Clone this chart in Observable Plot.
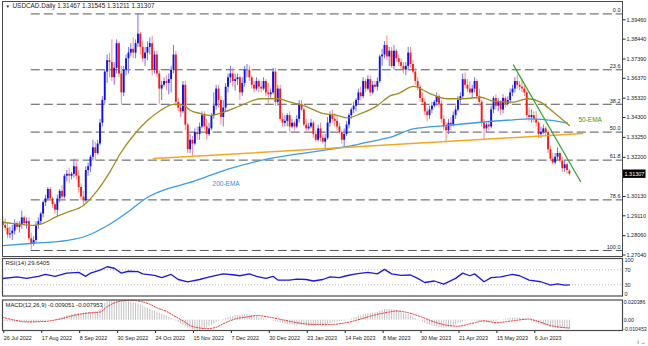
<!DOCTYPE html>
<html>
<head>
<meta charset="utf-8">
<script src="https://cdn.jsdelivr.net/npm/d3@7"></script>
<script src="https://cdn.jsdelivr.net/npm/@observablehq/plot@0.6"></script>
<style>
  html, body { margin: 0; padding: 0; background: #fff; }
  #chart { position: relative; width: 648px; height: 346px; overflow: hidden; background: #fff; }
  #chart > svg { position: absolute; left: 0; }
</style>
</head>
<body>
<div id="chart"></div>
<script>
// ---------- DATA (daily USDCAD, prices in pips = price * 1e4) ----------
const TITLE = "USDCAD.Daily 1.31467 1.31545 1.31211 1.31307";
const OPEN = [
12880,12860,12845,12810,12815,12830,12870,12850,12860,12900,
12870,12880,12790,12760,12780,12860,12880,12920,12980,13000,
13050,13000,12970,12940,13000,13040,13010,13120,13130,13120,
13130,13170,13120,13060,13010,12990,13150,13170,13220,13270,
13240,13290,13400,13520,13670,13730,13720,13640,13690,13820,
13660,13560,13680,13740,13770,13790,13770,13820,13870,13800,
13740,13770,13800,13820,13680,13760,13660,13580,13600,13620,
13610,13630,13680,13760,13510,13480,13460,13600,13390,13260,
13310,13290,13350,13340,13380,13440,13380,13340,13370,13440,
13490,13580,13520,13430,13480,13590,13640,13660,13620,13630,
13640,13560,13610,13680,13680,13640,13600,13580,13620,13590,
13580,13620,13560,13550,13560,13670,13510,13580,13420,13400,
13410,13440,13380,13400,13380,13420,13500,13470,13390,13370,
13380,13400,13340,13310,13370,13320,13300,13320,13400,13440,
13420,13410,13380,13350,13310,13340,13390,13440,13470,13490,
13520,13560,13540,13620,13580,13630,13560,13600,13590,13620,
13750,13760,13810,13750,13780,13700,13780,13740,13720,13700,
13680,13700,13770,13710,13670,13620,13590,13530,13510,13460,
13440,13470,13490,13510,13540,13500,13420,13380,13360,13400,
13390,13440,13470,13520,13540,13630,13600,13580,13560,13580,
13620,13540,13510,13400,13370,13390,13380,13470,13530,13490,
13510,13470,13530,13500,13520,13560,13580,13620,13600,13590,
13580,13560,13440,13430,13440,13420,13400,13340,13350,13370,
13350,13260,13210,13190,13220,13240,13200,13160,13180,13146.7];
const HIGH = [
12910,12895,12870,12850,12860,12890,12880,12880,12935,12910,
12900,12900,12820,12800,12880,12900,12930,12990,13020,13060,
13060,13010,12980,13020,13050,13070,13130,13150,13160,13140,
13210,13210,13150,13080,13040,13170,13190,13230,13310,13300,
13310,13420,13540,13680,13760,13770,13840,13720,13840,13830,
13700,13700,13760,13800,13820,13850,13840,13977,13880,13830,
13800,13830,13850,13860,13780,13780,13680,13620,13640,13650,
13660,13700,13810,13780,13530,13500,13620,13620,13400,13340,
13330,13370,13380,13400,13460,13460,13420,13400,13450,13560,
13600,13600,13540,13520,13610,13660,13700,13690,13660,13660,
13650,13640,13700,13710,13700,13650,13620,13640,13630,13620,
13640,13630,13610,13580,13690,13690,13600,13600,13450,13440,
13450,13460,13420,13410,13440,13520,13520,13480,13420,13400,
13420,13410,13360,13390,13400,13340,13340,13430,13460,13470,
13450,13440,13400,13360,13370,13410,13450,13480,13510,13530,
13580,13590,13640,13630,13650,13650,13620,13620,13640,13760,
13790,13830,13862,13800,13800,13810,13790,13760,13740,13720,
13720,13800,13800,13730,13690,13640,13600,13560,13530,13480,
13490,13510,13520,13560,13550,13520,13440,13400,13420,13430,
13460,13490,13540,13560,13660,13665,13630,13620,13600,13640,
13630,13580,13520,13420,13400,13410,13490,13540,13550,13530,
13520,13550,13540,13540,13580,13600,13640,13655,13620,13630,
13600,13570,13480,13470,13460,13460,13410,13380,13390,13380,
13360,13280,13240,13240,13270,13250,13220,13200,13190,13154.5];
const LOW = [
12845,12830,12790,12790,12780,12810,12835,12820,12840,12860,
12840,12780,12730,12750,12770,12840,12860,12900,12960,12990,
12990,12950,12920,12905,12980,12990,13000,13090,13080,13100,
13110,13100,13030,12990,12960,12980,13120,13140,13200,13200,
13230,13280,13380,13500,13610,13640,13620,13600,13660,13640,
13500,13540,13650,13660,13750,13740,13740,13800,13760,13720,
13700,13730,13760,13650,13660,13640,13500,13520,13590,13570,
13550,13560,13660,13490,13460,13430,13450,13360,13240,13240,
13226,13280,13310,13310,13370,13360,13310,13330,13360,13420,
13470,13480,13390,13380,13460,13560,13610,13590,13570,13600,
13520,13540,13590,13640,13620,13580,13560,13570,13560,13560,
13570,13540,13500,13530,13550,13490,13490,13410,13380,13380,
13380,13350,13370,13360,13370,13400,13460,13380,13350,13360,
13370,13320,13300,13300,13300,13290,13262,13310,13380,13400,
13380,13360,13340,13290,13270,13330,13370,13420,13450,13460,
13500,13520,13530,13560,13570,13540,13550,13580,13570,13610,
13700,13740,13730,13700,13690,13680,13720,13700,13680,13660,
13650,13680,13690,13660,13600,13570,13510,13500,13440,13406,
13420,13450,13480,13490,13480,13400,13360,13300,13340,13360,
13380,13420,13460,13500,13530,13580,13560,13550,13530,13560,
13520,13490,13380,13315,13350,13360,13370,13450,13470,13460,
13440,13450,13480,13490,13500,13540,13560,13580,13570,13560,
13540,13420,13410,13400,13400,13380,13320,13320,13340,13330,
13240,13200,13180,13180,13200,13190,13140,13140,13130,13121.1];
const CLOSE = [
12860,12845,12810,12815,12830,12870,12850,12860,12900,12870,
12880,12790,12760,12780,12860,12880,12920,12980,13000,13050,
13000,12970,12940,13000,13040,13010,13120,13130,13120,13130,
13170,13120,13060,13010,12990,13150,13170,13220,13270,13240,
13290,13400,13520,13670,13730,13720,13640,13690,13820,13660,
13560,13680,13740,13770,13790,13770,13820,13870,13800,13740,
13770,13800,13820,13680,13760,13660,13580,13600,13620,13610,
13630,13680,13760,13510,13480,13460,13600,13390,13260,13310,
13290,13350,13340,13380,13440,13380,13340,13370,13440,13490,
13580,13520,13430,13480,13590,13640,13660,13620,13630,13640,
13560,13610,13680,13680,13640,13600,13580,13620,13590,13580,
13620,13560,13550,13560,13670,13510,13580,13420,13400,13410,
13440,13380,13400,13380,13420,13500,13470,13390,13370,13380,
13400,13340,13310,13370,13320,13300,13320,13400,13440,13420,
13410,13380,13350,13310,13340,13390,13440,13470,13490,13520,
13560,13540,13620,13580,13630,13560,13600,13590,13620,13750,
13760,13810,13750,13780,13700,13780,13740,13720,13700,13680,
13700,13770,13710,13670,13620,13590,13530,13510,13460,13440,
13470,13490,13510,13540,13500,13420,13380,13360,13400,13390,
13440,13470,13520,13540,13630,13600,13580,13560,13580,13620,
13540,13510,13400,13370,13390,13380,13470,13530,13490,13510,
13470,13530,13500,13520,13560,13580,13620,13600,13590,13580,
13560,13440,13430,13440,13420,13400,13340,13350,13370,13350,
13260,13210,13190,13220,13240,13200,13160,13180,13150,13130.7];
const LAST_CLOSE = 1.31307;

// moving averages (bar index, price)
const EMA50_BARS = [0,4.5,13,17.2,22.2,27.3,34,39.9,45.5,49.6,55.1,61.1,66.5,72,76.3,79.2,83.4,87.6,93.1,100.3,108.8,115.9,121.3,126.9,135.3,141.1,145.4,150.9,158,163.6,166.5,173.2,180.4,187.6,194.4,201.5,206.9,215.4,221.3,226.8,232.3,239];
const EMA50_VALUES = [1.2877,1.2870,1.2860,1.2872,1.2904,1.2930,1.2965,1.3045,1.3150,1.3240,1.3335,1.3415,1.3467,1.3499,1.3494,1.3467,1.3451,1.3441,1.3458,1.3493,1.3529,1.3529,1.3511,1.3493,1.3450,1.3441,1.3428,1.3450,1.3493,1.3546,1.3555,1.3594,1.3555,1.3529,1.3529,1.3537,1.3516,1.3511,1.3529,1.3511,1.3458,1.3388];
const EMA200_BARS = [0,13,27.3,35.7,44.2,52.6,61.1,69.5,77.9,83.4,96.1,112.9,135.3,145.4,153.8,163.6,173.2,187.6,201.5,215.4,222.5,232.3,238.2];
const EMA200_VALUES = [1.2754,1.2766,1.2781,1.2807,1.2860,1.2930,1.3009,1.3054,1.3083,1.3106,1.3161,1.3214,1.3256,1.3277,1.3300,1.3326,1.3370,1.3388,1.3405,1.3418,1.3423,1.3414,1.3400];

// trend lines (bar index, price)
const SUPPORT_BARS = [63.6, 244.5];
const SUPPORT_PRICES = [1.3213, 1.3345];
const RESIST_BARS = [215.4, 243.7];
const RESIST_PRICES = [1.3707, 1.3092];

// Fibonacci retracement
const FIB_LABELS = ["0.0","23.6","38.2","50.0","61.8","78.6","100.0"];
const FIB_PRICES = [1.3977,1.3682,1.3500,1.3353,1.3205,1.2995,1.2728];
const FIB_START_BAR = 12;

// price axis ticks
const PRICE_TICKS = [1.39460,1.38440,1.37390,1.36370,1.35320,1.34300,1.33250,1.32200,1.30130,1.29110,1.28060,1.27040];

// annotations
const EMA_LABELS = [
  {text: "50-EMA", bar: 242.8, price: 1.3419, color: "#2f9a2f"},
  {text: "200-EMA", bar: 88.5, price: 1.3082, color: "#2f8fe0"}
];

// RSI(14)
const RSI_TITLE = "RSI(14) 29.6405";
const RSI_BARS = [0,6,10,15,18,22,27,32,35,37,41,44,47,50,53,57,59,64,67,71,74,78,83,86,90,93,97,100,104,107,111,114,116,121,124,128,131,135,138,142,145,149,154,158,161,164,168,172,175,178,182,186,191,194,197,199,203,206,210,215,218,222,227,231,234,237,239];
const RSI_VALUES = [46.7,51,47,52.5,57.5,52.5,61,63,52.5,61,69,78,74,61,66,65,59,55,49,57.5,44,37.5,44,49,55,59,56.7,54,59,52.5,47,52.5,42.5,42.5,45,44,40,44,51,49,54,59,63,59,71,59,55,56,47,36,40,31.7,47,61,54,59,38,49,51,57.5,54,42.5,38,29,32.5,29,29.6405];
const RSI_LEVELS = [30, 70];
const RSI_LABELS = [100, 70, 30, 0];

// MACD(12,26,9): main line per bar (x 1e-4) and signal samples (x 1e-4)
const MACD_TITLE = "MACD(12,26,9) -0.009051 -0.007953";
const MACD_MAIN = [
-14,-15,-17,-19,-20,-21,-22,-22,-21,-21,
-21,-24,-28,-29,-26,-23,-19,-14,-9,-4,
-1,1,4,10,18,26,34,42,48,54,
60,64,66,68,70,74,78,80,84,86,
88,110,140,170,185,196,203,203.86,202,200,
198,194,190,188,184,178,170,162,154,142,
130,118,108,100,92,82,72,60,50,40,
30,18,4,-10,-25,-40,-55,-68,-80,-90,
-97,-102,-104.53,-102,-96,-88,-78,-66,-52,-36,
-22,-10,-2,8,16,24,32,38,44,48,
52,54,56,56,54,50,44,36,28,20,
12,6,0,-6,-10,-16,-22,-28,-34,-40,
-44,-48,-52,-56,-58,-54,-52,-56,-60,-62,
-62,-64,-64,-60,-58,-56,-54,-44,-34,-28,
-24,-20,-16,-14,-10,-4,4,12,20,28,
38,44,54,60,66,68,72,76,80,90,
98,106,110,112,108,104,98,90,80,70,
60,54,44,32,18,6,-8,-20,-34,-46,
-54,-60,-64,-68,-72,-78,-80,-80,-74,-66,
-56,-46,-36,-26,-16,-10,-6,-4,-6,-8,
-10,-14,-20,-28,-32,-32,-26,-18,-10,-4,
0,6,10,14,18,20,22,22,20,16,
12,4,-6,-14,-22,-30,-40,-48,-54,-58,
-66,-74,-82,-84,-84,-86,-88,-89,-90,-90.51];
const SIGNAL_BARS = [0,5,10,17,24,31,36,41,44,48,51,55,58,62,65,69,72,76,79,83,86,90,93,98,104,107,112,118,124,131,138,145,151,156,163,166,171,177,182,187,192,198,203,208,215,222,225,231,239];
const SIGNAL_VALUES = [29,0,-18,-14,11,54,72,82,136,182,197,200,190,161,125,89,47,-7,-54,-79,-86,-72,-36,11,36,47,32,4,-25,-43,-43,-25,11,47,82,93,75,29,-18,-50,-61,-32,-7,-25,-7,11,-7,-54,-79.53];
const MACD_LABELS = [0.020386, 0, -0.010453];

// time axis
const DATE_TICK_BARS = [0,16,32,48,64,80,96,112,128,144,160,176,192,208,224];
const DATE_LABELS = ["26 Jul 2022","17 Aug 2022","8 Sep 2022","30 Sep 2022","24 Oct 2022","15 Nov 2022","7 Dec 2022","30 Dec 2022","23 Jan 2023","14 Feb 2023","8 Mar 2023","30 Mar 2023","21 Apr 2023","15 May 2023","6 Jun 2023"];

// ---------- DRAWING ----------
const FONT = "'Liberation Sans', Arial, sans-serif";
const X_DOMAIN = [-0.13, 261.4];
const TXT = "#222";
const baseStyle = {background: "transparent", fontFamily: FONT, fontSize: "5.5px", color: TXT, overflow: "visible"};

const candles = OPEN.map((o, i) => ({i, o: o / 1e4, h: HIGH[i] / 1e4, l: LOW[i] / 1e4, c: CLOSE[i] / 1e4, up: CLOSE[i] >= o}));
const ema50 = EMA50_BARS.map((b, k) => ({i: b, v: EMA50_VALUES[k]}));
const ema200 = EMA200_BARS.map((b, k) => ({i: b, v: EMA200_VALUES[k]}));
const support = SUPPORT_BARS.map((b, k) => ({i: b, v: SUPPORT_PRICES[k]}));
const resist = RESIST_BARS.map((b, k) => ({i: b, v: RESIST_PRICES[k]}));
const rsi = RSI_BARS.map((b, k) => ({i: b, v: RSI_VALUES[k]}));
const macd = MACD_MAIN.map((v, i) => ({i, v: v / 1e4}));
const signal = SIGNAL_BARS.map((b, k) => ({i: b, v: SIGNAL_VALUES[k] / 1e4}));

const UP_BODY = "#1010e0", UP_WICK = "#7474ee", DN_BODY = "#f01c1c", DN_WICK = "#f48c8c";

const priceBox = (index, scales, values, dims) => {
  const y = scales.y(LAST_CLOSE);
  const x0 = dims.width - dims.marginRight;
  const g = d3.create("svg:g");
  g.append("rect").attr("x", x0 + 1).attr("y", y - 4.2).attr("width", 22.5).attr("height", 8.4).attr("fill", "#000");
  g.append("text").attr("x", x0 + 2.5).attr("y", y).attr("dy", "0.35em").attr("fill", "#fff")
    .attr("text-anchor", "start").attr("font-size", 5.5).attr("font-family", FONT)
    .text(d3.format(".5f")(LAST_CLOSE));
  return g.node();
};

const main = Plot.plot({
  width: 648, height: 257,
  marginLeft: 2, marginRight: 26, marginTop: 1, marginBottom: 1,
  style: baseStyle,
  x: {domain: X_DOMAIN, axis: null},
  y: {domain: [1.26961, 1.40426], axis: null},
  marks: [
    Plot.ruleY(FIB_PRICES, {y: d => d, x1: () => FIB_START_BAR, x2: () => X_DOMAIN[1], stroke: "#555", strokeWidth: 1, strokeDasharray: "9,4"}),
    Plot.text(FIB_PRICES, {y: d => d, text: (d, i) => FIB_LABELS[i], frameAnchor: "right", textAnchor: "end", dx: -2, dy: -3.5, fill: TXT, fontSize: 5.5}),
    Plot.ruleX(candles, {x: "i", y1: "l", y2: "h", stroke: d => d.up ? UP_WICK : DN_WICK, strokeWidth: 1}),
    Plot.ruleX(candles, {x: "i", y1: "o", y2: "c", stroke: d => d.up ? UP_BODY : DN_BODY, strokeWidth: 1.9}),
    Plot.line(ema200, {x: "i", y: "v", stroke: "#3d9ae6", strokeWidth: 1.3, curve: "monotone-x"}),
    Plot.line(ema50, {x: "i", y: "v", stroke: "#a08e22", strokeWidth: 1.3, curve: "monotone-x"}),
    Plot.line(support, {x: "i", y: "v", stroke: "#f5a623", strokeWidth: 1.5}),
    Plot.line(resist, {x: "i", y: "v", stroke: "#36a836", strokeWidth: 1.3}),
    Plot.text(EMA_LABELS, {x: "bar", y: "price", text: "text", fill: "color", textAnchor: "start", fontSize: 6.5}),
    Plot.text(["\u25BC"], {frameAnchor: "top-left", dx: 3, dy: 3.5, lineAnchor: "top", textAnchor: "start", fontSize: 4.5, fill: TXT}),
    Plot.text([TITLE], {frameAnchor: "top-left", dx: 10, dy: 2.2, lineAnchor: "top", textAnchor: "start", fontSize: 6.4, fill: TXT}),
    Plot.axisY(PRICE_TICKS, {anchor: "right", tickSize: 2.5, tickPadding: 1.5, tickFormat: d3.format(".5f"), fontSize: 5.5, color: TXT}),
    Plot.frame({stroke: "#4a4a4a"}),
    priceBox
  ]
});

const rsiPlot = Plot.plot({
  width: 648, height: 41,
  marginLeft: 2, marginRight: 26, marginTop: 1, marginBottom: 2.5,
  style: baseStyle,
  x: {domain: X_DOMAIN, axis: null},
  y: {domain: [0, 100], axis: null},
  marks: [
    Plot.ruleY(RSI_LEVELS, {y: d => d, stroke: "#b8b8b8", strokeDasharray: "1,2"}),
    Plot.line(rsi, {x: "i", y: "v", stroke: "#1a1ad8", strokeWidth: 1.3}),
    Plot.text([RSI_TITLE], {frameAnchor: "top-left", dx: 3, dy: 2.5, lineAnchor: "top", textAnchor: "start", fontSize: 6, fill: TXT}),
    Plot.text(RSI_LABELS.filter(d => d === 100), {y: d => d, text: d => String(d), frameAnchor: "right", dx: 2, textAnchor: "start", lineAnchor: "top", fontSize: 5.5, fill: TXT}),
    Plot.text(RSI_LABELS.filter(d => d > 0 && d < 100), {y: d => d, text: d => String(d), frameAnchor: "right", dx: 2, textAnchor: "start", lineAnchor: "middle", fontSize: 5.5, fill: TXT}),
    Plot.text(RSI_LABELS.filter(d => d === 0), {y: d => d, text: d => String(d), frameAnchor: "right", dx: 2, textAnchor: "start", lineAnchor: "bottom", fontSize: 5.5, fill: TXT}),
    Plot.frame({stroke: "#4a4a4a", strokeWidth: 1.2})
  ]
});

const fmtM = d => d === 0 ? "0.00" : String(d);
const macdPlot = Plot.plot({
  width: 648, height: 48,
  marginLeft: 2, marginRight: 26, marginTop: 1.5, marginBottom: 16,
  style: baseStyle,
  x: {domain: X_DOMAIN, axis: null},
  y: {domain: [-0.010453, 0.020386], axis: null},
  marks: [
    Plot.ruleX(macd, {x: "i", y1: () => 0, y2: "v", stroke: "#c2c2c2", strokeWidth: 1}),
    Plot.line(signal, {x: "i", y: "v", stroke: "#e8302a", strokeWidth: 1, strokeDasharray: "1.3,1.5", curve: "monotone-x"}),
    Plot.text([MACD_TITLE], {frameAnchor: "top-left", dx: 3, dy: 2.5, lineAnchor: "top", textAnchor: "start", fontSize: 5.9, fill: TXT}),
    Plot.text(MACD_LABELS.filter(d => d > 0), {y: d => d, text: fmtM, frameAnchor: "right", dx: 1.2, textAnchor: "start", lineAnchor: "top", fontSize: 5.2, fill: TXT}),
    Plot.text(MACD_LABELS.filter(d => d === 0), {y: d => d, text: fmtM, frameAnchor: "right", dx: 1.2, textAnchor: "start", lineAnchor: "middle", fontSize: 5.2, fill: TXT}),
    Plot.text(MACD_LABELS.filter(d => d < 0), {y: d => d, text: fmtM, frameAnchor: "right", dx: 0.8, textAnchor: "start", lineAnchor: "bottom", fontSize: 5.2, fill: TXT}),
    Plot.axisX(DATE_TICK_BARS, {anchor: "bottom", tickSize: 3, tickPadding: 3, textAnchor: "start", dx: 1, fontSize: 5.4, color: TXT,
      tickFormat: d => DATE_LABELS[DATE_TICK_BARS.indexOf(d)]}),
    Plot.frame({stroke: "#4a4a4a", strokeWidth: 1.2})
  ]
});

const root = document.getElementById("chart");
[[main, 0], [rsiPlot, 257], [macdPlot, 298]].forEach(([el, top]) => {
  el.style.top = top + "px";
  root.appendChild(el);
});
</script>
</body>
</html>
